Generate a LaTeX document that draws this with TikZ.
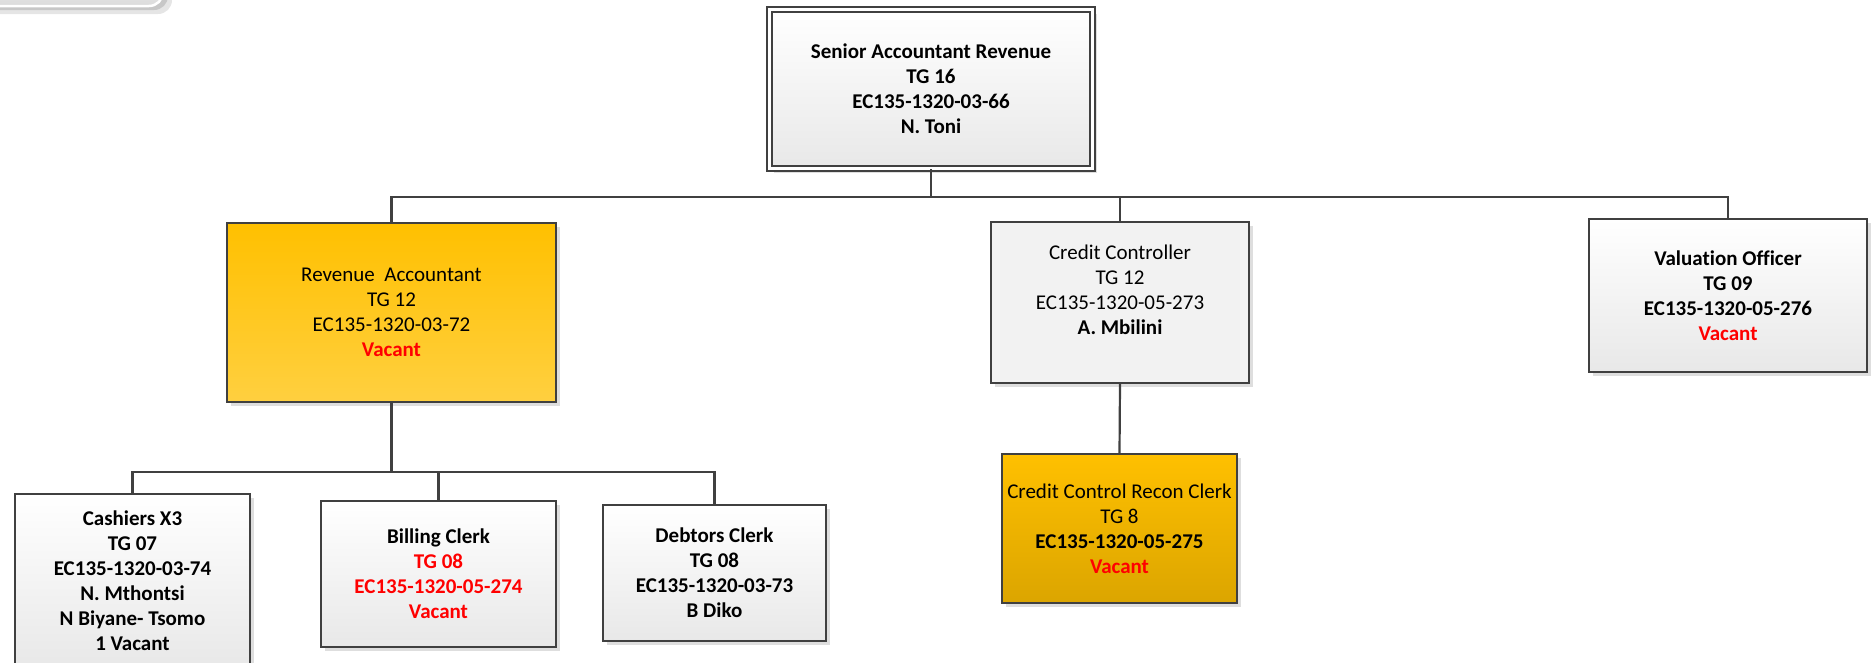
\documentclass[tikz,border=0pt]{standalone}
\usepackage{fontspec}
\setmainfont{Carlito}[Ligatures=NoCommon]
\usetikzlibrary{shadows}
\definecolor{linegray}{HTML}{404040}
\definecolor{vacred}{HTML}{FF0000}
\definecolor{gold}{HTML}{FFC000}
\newcommand{\vac}[1]{\textcolor{vacred}{\textbf{#1}}}

\begin{document}
\begin{tikzpicture}[x=1pt,y=-1pt,
  post/.style={draw=linegray, line width=1.3pt, align=center, inner sep=0pt,
    font=\fontsize{21}{25}\selectfont,
    general shadow={fill=black!13, shadow xshift=4pt, shadow yshift=-4pt}},
  greybox/.style={post, top color=white, bottom color=black!9},
  flatbox/.style={post, fill=black!5},
  goldbox/.style={post, top color=gold, bottom color=gold!75!white},
  darkgold/.style={post, top color=gold, bottom color=gold!86!black},
  link/.style={draw=linegray, line width=2.2pt}]

\useasboundingbox (0,0) rectangle (1872,662);

\fill[black!10, rounded corners=14pt] (-20,-40) rectangle (172,14);
\fill[black!22, rounded corners=14pt] (-20,-40) rectangle (168,10);
\draw[white, line width=2.5pt, top color=black!4, bottom color=black!14, rounded corners=14pt] (-20,-40) rectangle (163,6);

\node[greybox, double=white, double distance=3.7pt, minimum width=323pt, minimum height=159pt] (v1) at (931,89)
  {\textbf{Senior Accountant Revenue}\\ \textbf{TG 16}\\ \textbf{EC135-1320-03-66}\\ \textbf{N. Toni}};
\node[goldbox, minimum width=329pt, minimum height=179pt] (v2) at (391.5,312.5)
  {Revenue\ \ Accountant\\ TG 12\\ EC135-1320-03-72\\ \vac{Vacant}};
\node[flatbox, minimum width=258pt, minimum height=161pt] (v3) at (1120,302.5)
  {Credit Controller\\ TG 12\\ EC135-1320-05-273\\ \textbf{A. Mbilini}\\ \mbox{}};
\node[greybox, minimum width=278pt, minimum height=153pt] (v4) at (1728,295.5)
  {\textbf{Valuation Officer}\\ \textbf{TG 09}\\ \textbf{EC135-1320-05-276}\\ \vac{Vacant}};
\node[greybox, minimum width=235pt, minimum height=173pt] (v5) at (132.5,580.5)
  {\textbf{Cashiers X3}\\ \textbf{TG 07}\\ \textbf{EC135-1320-03-74}\\ \textbf{N. Mthontsi}\\ \textbf{N Biyane- Tsomo}\\ \textbf{1 Vacant}};
\node[greybox, minimum width=235pt, minimum height=146pt] (v6) at (438.5,574)
  {\textbf{Billing Clerk}\\ \vac{TG 08}\\ \vac{EC135-1320-05-274}\\ \vac{Vacant}};
\node[greybox, minimum width=223pt, minimum height=136pt] (v7) at (714.5,573)
  {\textbf{Debtors Clerk}\\ \textbf{TG 08}\\ \textbf{EC135-1320-03-73}\\ \textbf{B Diko}};
\node[darkgold, minimum width=235pt, minimum height=149pt] (v8) at (1119.5,528.5)
  {Credit Control Recon Clerk\\ TG 8\\ \textbf{EC135-1320-05-275}\\ \vac{Vacant}};

\draw[link] (v1.south) -- ++(0,28) -| (v2.north);
\draw[link] (v1.south) -- ++(0,28) -| (v3.north);
\draw[link] (v1.south) -- ++(0,28) -| (v4.north);
\draw[link] (v2.south) -- ++(0,69) -| (v5.north);
\draw[link] (v2.south) -- ++(0,69) -| (v6.north);
\draw[link] (v2.south) -- ++(0,69) -| (v7.north);
\draw[link] (v3.south) -- (v8.north);
\end{tikzpicture}
\end{document}
